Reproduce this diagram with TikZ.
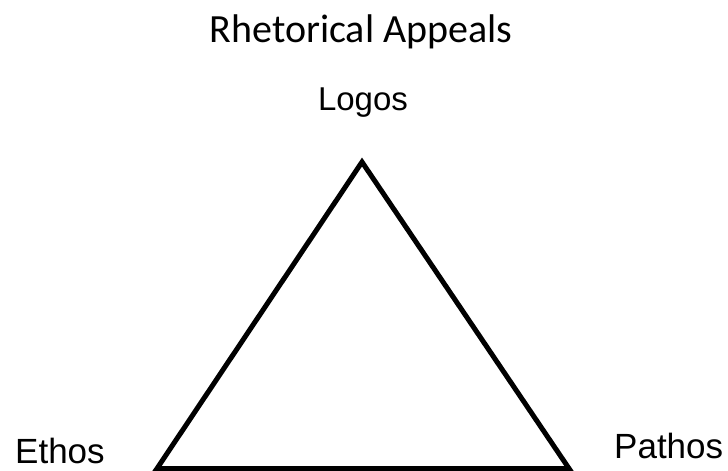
\documentclass[tikz,border=0pt]{standalone}
\usepackage{fontspec}
\setmainfont{Liberation Sans}
\newfontfamily\calfont{Carlito}
\tikzset{lbl/.style={inner sep=0pt, font=\fontsize{35}{40}\selectfont},
  tri/.style={line width=5pt, line join=miter}}
\begin{document}
\begin{tikzpicture}[x=1pt,y=-1pt]
\useasboundingbox (0,0) rectangle (728,471);
\clip (0,0) rectangle (728,471);
\node[inner sep=0pt, font=\calfont\fontsize{40}{46}\selectfont, anchor=base] (title) at (361,42) {Rhetorical Appeals};
\node[inner sep=0pt, font=\fontsize{33}{38}\selectfont, anchor=base] (logos) at (363,110) {Logos};
\node[lbl, anchor=base west] (ethos) at (15,463) {Ethos};
\node[lbl, anchor=base west] (pathos) at (614,458) {Pathos};
\coordinate (A) at (362,162);
\coordinate (B) at (157,468.5);
\coordinate (C) at (569,468.5);
\draw[tri] (A) -- (B) -- (C) -- cycle;
\end{tikzpicture}
\end{document}
